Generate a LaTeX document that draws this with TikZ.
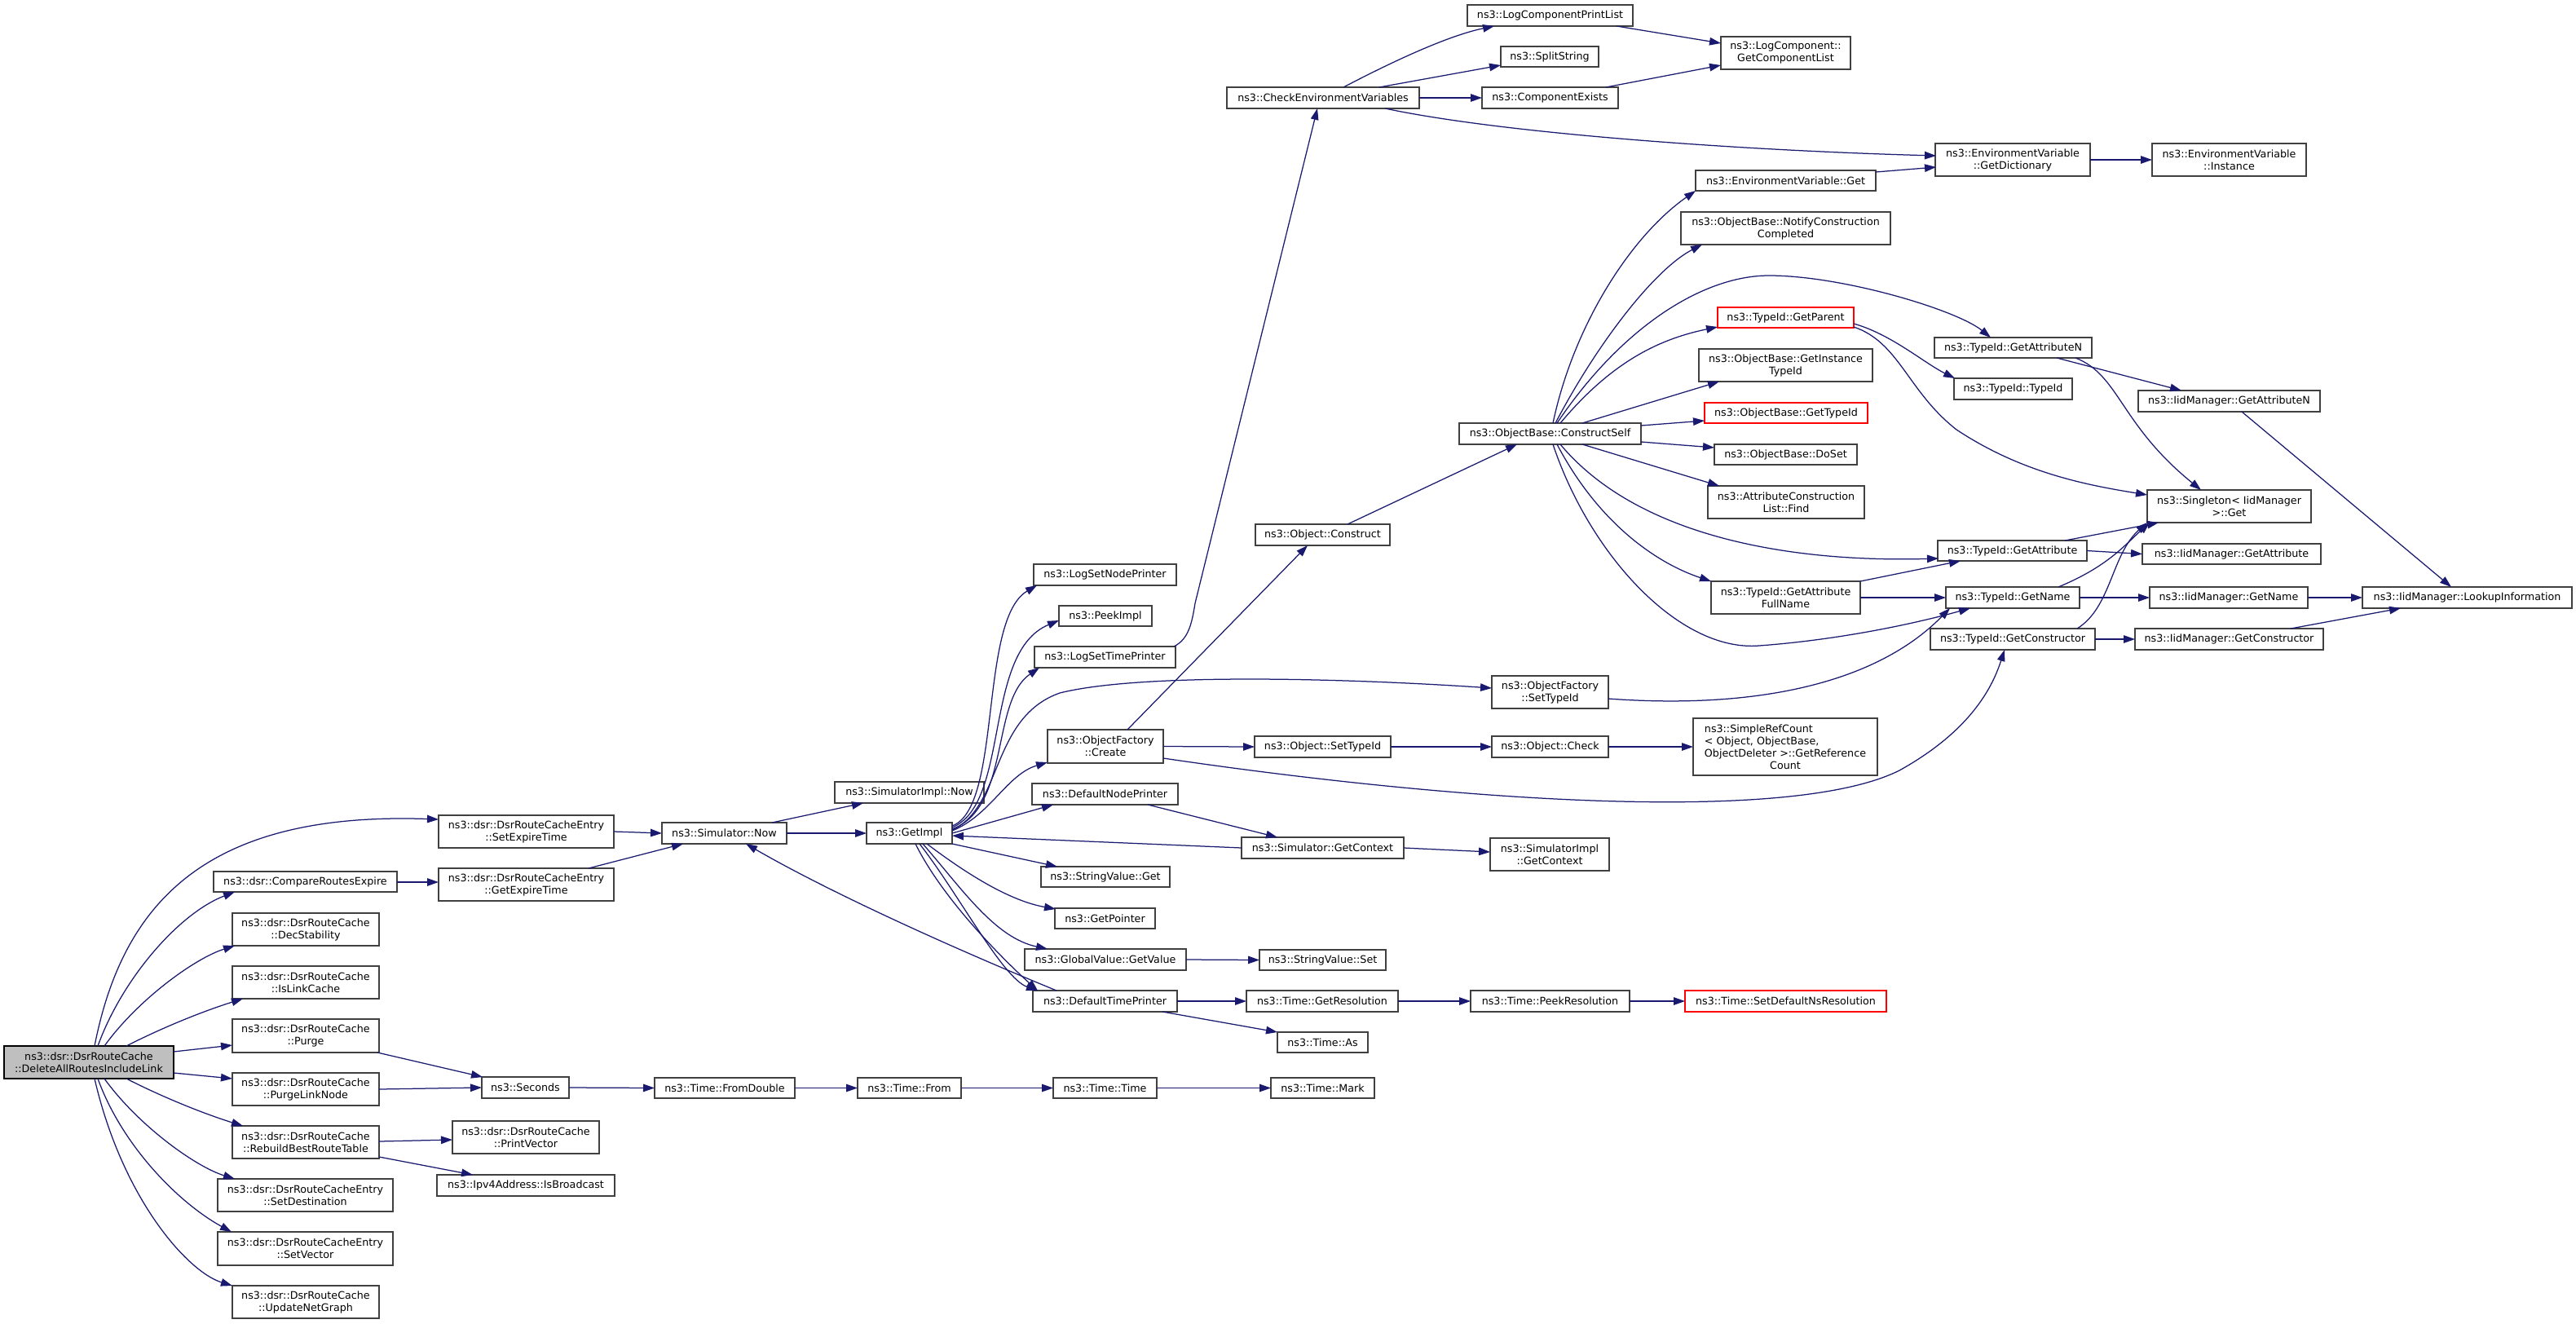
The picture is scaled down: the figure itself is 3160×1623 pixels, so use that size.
\documentclass[tikz,border=0pt]{standalone}
\usepackage{fontspec}
\setmainfont{DejaVu Sans}
\usepackage{calc}
\usetikzlibrary{arrows.meta}
\definecolor{edgecol}{HTML}{191970}
\definecolor{bordercol}{HTML}{404040}
\definecolor{maingrey}{HTML}{BFBFBF}
\tikzset{
  box/.style={draw=bordercol, line width=1.5pt, fill=white, inner sep=0pt, outer sep=0pt, align=center, font=\fontsize{12.7}{15}\selectfont},
  redbox/.style={draw=red},
  mainbox/.style={fill=maingrey, draw=black},
  arr/.style={draw=edgecol, line width=1.25pt, -{Triangle[length=14pt,width=9.5pt]}, shorten >=0pt}
}
\newcommand{\mybox}[7][]{\node[box,#1,minimum width={#5-#3},minimum height={#6-#4}] (#2) at ({(#3+#5)/2},{(#4+#6)/2}) {#7};}
\begin{document}
\begin{tikzpicture}[x=1pt,y=-1pt]
\useasboundingbox (0,0) rectangle (3160,1623);
\fill[white] (0,0) rectangle (3160,1623);
% ---------- nodes ----------
\mybox[mainbox]{main}{5}{1283}{213}{1323}{ns3::dsr::DsrRouteCache\\::DeleteAllRoutesIncludeLink}
\mybox{setexp}{538}{1000}{753}{1040}{ns3::dsr::DsrRouteCacheEntry\\::SetExpireTime}
\mybox{compare}{262}{1069}{487}{1094}{ns3::dsr::CompareRoutesExpire}
\mybox{getexp}{538}{1065}{753}{1105}{ns3::dsr::DsrRouteCacheEntry\\::GetExpireTime}
\mybox{decstab}{285}{1120}{465}{1160}{ns3::dsr::DsrRouteCache\\::DecStability}
\mybox{islink}{285}{1185}{465}{1225}{ns3::dsr::DsrRouteCache\\::IsLinkCache}
\mybox{purge}{285}{1250}{465}{1291}{ns3::dsr::DsrRouteCache\\::Purge}
\mybox{purgelink}{285}{1316}{465}{1356}{ns3::dsr::DsrRouteCache\\::PurgeLinkNode}
\mybox{rebuild}{285}{1381}{465}{1421}{ns3::dsr::DsrRouteCache\\::RebuildBestRouteTable}
\mybox{setdest}{267}{1446}{482}{1486}{ns3::dsr::DsrRouteCacheEntry\\::SetDestination}
\mybox{setvec}{267}{1511}{482}{1552}{ns3::dsr::DsrRouteCacheEntry\\::SetVector}
\mybox{updnet}{285}{1577}{465}{1617}{ns3::dsr::DsrRouteCache\\::UpdateNetGraph}
\mybox{seconds}{591}{1321}{698}{1347}{ns3::Seconds}
\mybox{printvec}{555}{1375}{735}{1415}{ns3::dsr::DsrRouteCache\\::PrintVector}
\mybox{ipv4}{536}{1441}{754}{1467}{ns3::Ipv4Address::IsBroadcast}
\mybox{simnow}{812}{1009}{965}{1035}{ns3::Simulator::Now}
\mybox{simimplnow}{1024}{959}{1207}{985}{ns3::SimulatorImpl::Now}
\mybox{getimpl}{1063}{1009}{1168}{1035}{ns3::GetImpl}
\mybox{logsetnode}{1268}{692}{1443}{718}{ns3::LogSetNodePrinter}
\mybox{peekimpl}{1299}{743}{1413}{768}{ns3::PeekImpl}
\mybox{logsettime}{1269}{793}{1442}{819}{ns3::LogSetTimePrinter}
\mybox{ofcreate}{1285}{895}{1427}{936}{ns3::ObjectFactory\\::Create}
\mybox{defnode}{1266}{961}{1445}{987}{ns3::DefaultNodePrinter}
\mybox{svget}{1277}{1063}{1435}{1088}{ns3::StringValue::Get}
\mybox{getpointer}{1294}{1114}{1417}{1139}{ns3::GetPointer}
\mybox{gvget}{1257}{1164}{1455}{1190}{ns3::GlobalValue::GetValue}
\mybox{deftime}{1267}{1215}{1444}{1241}{ns3::DefaultTimePrinter}
\mybox{fromdouble}{803}{1322}{975}{1347}{ns3::Time::FromDouble}
\mybox{tfrom}{1052}{1322}{1179}{1347}{ns3::Time::From}
\mybox{timetime}{1292}{1322}{1419}{1347}{ns3::Time::Time}
\mybox{tmark}{1559}{1322}{1686}{1347}{ns3::Time::Mark}
\mybox{getres}{1529}{1215}{1715}{1241}{ns3::Time::GetResolution}
\mybox{peekres}{1804}{1215}{1999}{1241}{ns3::Time::PeekResolution}
\mybox[redbox]{setdefns}{2067}{1215}{2314}{1241}{ns3::Time::SetDefaultNsResolution}
\mybox{timeas}{1567}{1266}{1678}{1291}{ns3::Time::As}
\mybox{svset}{1545}{1165}{1700}{1190}{ns3::StringValue::Set}
\mybox{simgetctx}{1523}{1027}{1722}{1053}{ns3::Simulator::GetContext}
\mybox{simimplctx}{1828}{1028}{1974}{1068}{ns3::SimulatorImpl\\::GetContext}
\mybox{objsettype}{1539}{903}{1706}{929}{ns3::Object::SetTypeId}
\mybox{objcheck}{1830}{903}{1973}{929}{ns3::Object::Check}
\mybox[align=left]{simpleref}{2077}{881}{2303}{951}{ns3::SimpleRefCount\\< Object, ObjectBase,\\ObjectDeleter >::GetReference\\\makebox[\widthof{ObjectDeleter >::GetReference}]{Count}}
\mybox{ofsettype}{1830}{829}{1973}{869}{ns3::ObjectFactory\\::SetTypeId}
\mybox{objconstruct}{1540}{643}{1705}{669}{ns3::Object::Construct}
\mybox{constructself}{1790}{519}{2013}{545}{ns3::ObjectBase::ConstructSelf}
\mybox{envget}{2080}{209}{2301}{234}{ns3::EnvironmentVariable::Get}
\mybox{notify}{2062}{260}{2319}{300}{ns3::ObjectBase::NotifyConstruction\\Completed}
\mybox[redbox]{getparent}{2107}{377}{2274}{402}{ns3::TypeId::GetParent}
\mybox{getinst}{2084}{428}{2297}{468}{ns3::ObjectBase::GetInstance\\TypeId}
\mybox[redbox]{obgettype}{2091}{494}{2291}{519}{ns3::ObjectBase::GetTypeId}
\mybox{doset}{2103}{545}{2278}{570}{ns3::ObjectBase::DoSet}
\mybox{acfind}{2095}{596}{2287}{636}{ns3::AttributeConstruction\\List::Find}
\mybox{getattrfull}{2099}{713}{2282}{753}{ns3::TypeId::GetAttribute\\FullName}
\mybox{tgetattr}{2377}{663}{2560}{688}{ns3::TypeId::GetAttribute}
\mybox{tgetname}{2387}{720}{2551}{746}{ns3::TypeId::GetName}
\mybox{tgetctor}{2368}{771}{2570}{797}{ns3::TypeId::GetConstructor}
\mybox{tgetattrn}{2373}{414}{2566}{439}{ns3::TypeId::GetAttributeN}
\mybox{typeidtypeid}{2397}{464}{2542}{490}{ns3::TypeId::TypeId}
\mybox{iidgetattrn}{2623}{479}{2846}{505}{ns3::IidManager::GetAttributeN}
\mybox{singleton}{2634}{601}{2835}{641}{ns3::Singleton< IidManager\\>::Get}
\mybox{iidgetattr}{2628}{667}{2847}{692}{ns3::IidManager::GetAttribute}
\mybox{iidgetname}{2637}{720}{2831}{746}{ns3::IidManager::GetName}
\mybox{iidgetctor}{2619}{771}{2850}{797}{ns3::IidManager::GetConstructor}
\mybox{lookup}{2898}{720}{3155}{746}{ns3::IidManager::LookupInformation}
\mybox{checkenv}{1505}{107}{1741}{133}{ns3::CheckEnvironmentVariables}
\mybox{logcompprint}{1800}{6}{2003}{32}{ns3::LogComponentPrintList}
\mybox{splitstring}{1841}{57}{1961}{82}{ns3::SplitString}
\mybox{compexists}{1818}{107}{1985}{133}{ns3::ComponentExists}
\mybox{getcomplist}{2111}{45}{2270}{85}{ns3::LogComponent::\\GetComponentList}
\mybox{getdict}{2374}{176}{2564}{216}{ns3::EnvironmentVariable\\::GetDictionary}
\mybox{instance}{2640}{176}{2829}{216}{ns3::EnvironmentVariable\\::Instance}
% ---------- edges: main ----------
\draw[arr] ([shift={(111,0)}]main.north west) .. controls (150,1110) and (250,995) .. ([shift={(0,5)}]setexp.north west);
\draw[arr] ([shift={(115,0)}]main.north west) .. controls (150,1200) and (220,1120) .. ([shift={(26,25)}]compare.north west);
\draw[arr] ([shift={(123,0)}]main.north west) .. controls (170,1225) and (240,1175) .. ([shift={(3,40)}]decstab.north west);
\draw[arr] ([shift={(150,0)}]main.north west) .. controls (200,1260) and (250,1240) .. ([shift={(13,40)}]islink.north west);
\draw[arr] ([shift={(208,7)}]main.north west) -- ([shift={(0,32)}]purge.north west);
\draw[arr] ([shift={(208,33)}]main.north west) -- ([shift={(0,7)}]purgelink.north west);
\draw[arr] ([shift={(150,40)}]main.north west) .. controls (200,1346) and (250,1366) .. ([shift={(13,0)}]rebuild.north west);
\draw[arr] ([shift={(123,40)}]main.north west) .. controls (170,1381) and (240,1431) .. ([shift={(21,0)}]setdest.north west);
\draw[arr] ([shift={(115,40)}]main.north west) .. controls (150,1406) and (220,1476) .. ([shift={(17,0)}]setvec.north west);
\draw[arr] ([shift={(111,40)}]main.north west) .. controls (150,1470) and (230,1560) .. ([shift={(0,0)}]updnet.north west);
% left cluster
\draw[arr] ([shift={(0,13)}]compare.north east) -- ([shift={(0,17)}]getexp.north west);
\draw[arr] (setexp.east) -- (simnow.west);
\draw[arr] ([shift={(184,0)}]getexp.north west) -- ([shift={(26,26)}]simnow.north west);
\draw[arr] ([shift={(135,0)}]simnow.north west) -- ([shift={(35,26)}]simimplnow.north west);
\draw[arr] (simnow.east) -- (getimpl.west);
\draw[arr] ([shift={(29,0)}]deftime.north west) .. controls (1150,1155) and (1010,1090) .. ([shift={(103,26)}]simnow.north west);
\draw[arr] ([shift={(178,41)}]purge.north west) -- ([shift={(1,0)}]seconds.north west);
\draw[arr] ([shift={(180,20)}]purgelink.north west) -- ([shift={(0,13)}]seconds.north west);
\draw[arr] ([shift={(180,19)}]rebuild.north west) -- ([shift={(0,23)}]printvec.north west);
\draw[arr] ([shift={(180,38)}]rebuild.north west) -- ([shift={(44,0)}]ipv4.north west);
\draw[arr] (seconds.east) -- (fromdouble.west);
\draw[arr] (fromdouble.east) -- (tfrom.west);
\draw[arr] (tfrom.east) -- (timetime.west);
\draw[arr] (timetime.east) -- (tmark.west);
% GetImpl fan
\draw[arr] ([shift={(105,4)}]getimpl.north west) .. controls (1230,990) and (1200,760) .. ([shift={(4,26)}]logsetnode.north west);
\draw[arr] ([shift={(105,6)}]getimpl.north west) .. controls (1240,985) and (1205,800) .. ([shift={(0,18)}]peekimpl.north west);
\draw[arr] ([shift={(105,8)}]getimpl.north west) .. controls (1240,990) and (1215,860) .. ([shift={(6,26)}]logsettime.north west);
\draw[arr] ([shift={(105,9)}]getimpl.north west) .. controls (1230,990) and (1215,880) .. (1300,850) .. controls (1400,825) and (1650,832) .. ([shift={(0,15)}]ofsettype.north west);
\draw[arr] ([shift={(105,10)}]getimpl.north west) .. controls (1215,1000) and (1235,950) .. ([shift={(0,40)}]ofcreate.north west);
\draw[arr] ([shift={(105,13)}]getimpl.north west) -- ([shift={(26,26)}]defnode.north west);
\draw[arr] ([shift={(105,26)}]getimpl.north west) -- ([shift={(20,0)}]svget.north west);
\draw[arr] ([shift={(74,26)}]getimpl.north west) .. controls (1190,1075) and (1240,1105) .. ([shift={(1,1)}]getpointer.north west);
\draw[arr] ([shift={(69,26)}]getimpl.north west) .. controls (1180,1090) and (1220,1150) .. ([shift={(28,0)}]gvget.north west);
\draw[arr] ([shift={(65,26)}]getimpl.north west) .. controls (1175,1095) and (1230,1200) .. ([shift={(6,0)}]deftime.north west);
\draw[arr] ([shift={(60,26)}]getimpl.north west) .. controls (1160,1110) and (1245,1190) .. ([shift={(6,0)}]deftime.north west);
\draw[arr] ([shift={(0,13)}]simgetctx.north west) -- ([shift={(105,16)}]getimpl.north west);
\draw[arr] ([shift={(142,26)}]defnode.north west) -- ([shift={(44,0)}]simgetctx.north west);
\draw[arr] (simgetctx.east) -- ([shift={(0,17)}]simimplctx.north west);
\draw[arr] ([shift={(171,0)}]logsettime.north west) .. controls (1458,784) and (1462,765) .. (1466,740) -- ([shift={(111,26)}]checkenv.north west);
\draw[arr] ([shift={(98,0)}]ofcreate.north west) -- ([shift={(64,26)}]objconstruct.north west);
\draw[arr] (ofcreate.east) -- (objsettype.west);
\draw[arr] ([shift={(142,35)}]ofcreate.north west) .. controls (1800,985) and (2200,1010) .. (2330,945) .. controls (2420,895) and (2445,840) .. ([shift={(91,26)}]tgetctor.north west);
\draw[arr] ([shift={(143,28)}]ofsettype.north west) .. controls (2150,870) and (2300,840) .. ([shift={(5,26)}]tgetname.north west);
\draw[arr] (objsettype.east) -- (objcheck.west);
\draw[arr] (objcheck.east) -- ([shift={(0,35)}]simpleref.north west);
\draw[arr] ([shift={(113,0)}]objconstruct.north west) -- ([shift={(71,26)}]constructself.north west);
\draw[arr] (gvget.east) -- (svset.west);
\draw[arr] (deftime.east) -- (getres.west);
\draw[arr] (getres.east) -- (peekres.west);
\draw[arr] (peekres.east) -- (setdefns.west);
\draw[arr] ([shift={(159,26)}]deftime.north west) -- ([shift={(0,0)}]timeas.north west);
% top cluster
\draw[arr] ([shift={(143,0)}]checkenv.north west) .. controls (1690,85) and (1770,45) .. ([shift={(33,26)}]logcompprint.north west);
\draw[arr] ([shift={(187,0)}]checkenv.north west) -- ([shift={(0,23)}]splitstring.north west);
\draw[arr] (checkenv.east) -- (compexists.west);
\draw[arr] ([shift={(194,26)}]checkenv.north west) .. controls (1850,165) and (2150,185) .. ([shift={(1,15)}]getdict.north west);
\draw[arr] ([shift={(183,26)}]logcompprint.north west) -- ([shift={(0,8)}]getcomplist.north west);
\draw[arr] ([shift={(152,0)}]compexists.north west) -- ([shift={(0,35)}]getcomplist.north west);
\draw[arr] ([shift={(221,2)}]envget.north west) -- ([shift={(1,29)}]getdict.north west);
\draw[arr] (getdict.east) -- (instance.west);
% ConstructSelf fan
\draw[arr] ([shift={(115,0)}]constructself.north west) .. controls (1930,400) and (2000,290) .. ([shift={(0,25)}]envget.north west);
\draw[arr] ([shift={(118,0)}]constructself.north west) .. controls (1960,420) and (2030,330) .. ([shift={(26,40)}]notify.north west);
\draw[arr] ([shift={(120,0)}]constructself.north west) .. controls (1990,400) and (2090,338) .. (2170,338) .. controls (2260,338) and (2400,380) .. ([shift={(69,0)}]tgetattrn.north west);
\draw[arr] ([shift={(124,0)}]constructself.north west) .. controls (1980,440) and (2040,415) .. ([shift={(0,24)}]getparent.north west);
\draw[arr] ([shift={(151,0)}]constructself.north west) -- ([shift={(25,40)}]getinst.north west);
\draw[arr] ([shift={(223,3)}]constructself.north west) -- ([shift={(0,22)}]obgettype.north west);
\draw[arr] ([shift={(223,23)}]constructself.north west) -- ([shift={(0,4)}]doset.north west);
\draw[arr] ([shift={(151,26)}]constructself.north west) -- ([shift={(14,0)}]acfind.north west);
\draw[arr] ([shift={(124,26)}]constructself.north west) .. controls (2010,660) and (2200,690) .. ([shift={(1,22)}]tgetattr.north west);
\draw[arr] ([shift={(120,26)}]constructself.north west) .. controls (1960,640) and (2030,690) .. ([shift={(0,0)}]getattrfull.north west);
\draw[arr] ([shift={(115,26)}]constructself.north west) .. controls (1950,680) and (2060,800) .. (2158,792) .. controls (2240,786) and (2330,770) .. ([shift={(30,26)}]tgetname.north west);
% right cluster
\draw[arr] ([shift={(167,20)}]getparent.north west) .. controls (2320,410) and (2360,445) .. ([shift={(1,0)}]typeidtypeid.north west);
\draw[arr] ([shift={(167,24)}]getparent.north west) .. controls (2330,420) and (2340,480) .. (2400,527) .. controls (2480,580) and (2560,595) .. ([shift={(0,6)}]singleton.north west);
\draw[arr] ([shift={(150,25)}]tgetattrn.north west) -- ([shift={(53,0)}]iidgetattrn.north west);
\draw[arr] ([shift={(173,25)}]tgetattrn.north west) .. controls (2600,460) and (2600,520) .. ([shift={(66,0)}]singleton.north west);
\draw[arr] ([shift={(127,26)}]iidgetattrn.north west) -- ([shift={(109,0)}]lookup.north west);
\draw[arr] ([shift={(156,0)}]tgetattr.north west) -- ([shift={(14,40)}]singleton.north west);
\draw[arr] (tgetattr.east) -- (iidgetattr.west);
\draw[arr] ([shift={(183,0)}]getattrfull.north west) -- ([shift={(28,25)}]tgetattr.north west);
\draw[arr] ([shift={(183,20)}]getattrfull.north west) -- ([shift={(0,13)}]tgetname.north west);
\draw[arr] ([shift={(138,0)}]tgetname.north west) .. controls (2585,695) and (2605,670) .. ([shift={(3,40)}]singleton.north west);
\draw[arr] (tgetname.east) -- (iidgetname.west);
\draw[arr] (iidgetname.east) -- (lookup.west);
\draw[arr] ([shift={(180,0)}]tgetctor.north west) .. controls (2590,745) and (2590,680) .. ([shift={(0,40)}]singleton.north west);
\draw[arr] (tgetctor.east) -- (iidgetctor.west);
\draw[arr] ([shift={(191,0)}]iidgetctor.north west) -- ([shift={(47,26)}]lookup.north west);
\end{tikzpicture}
\end{document}
